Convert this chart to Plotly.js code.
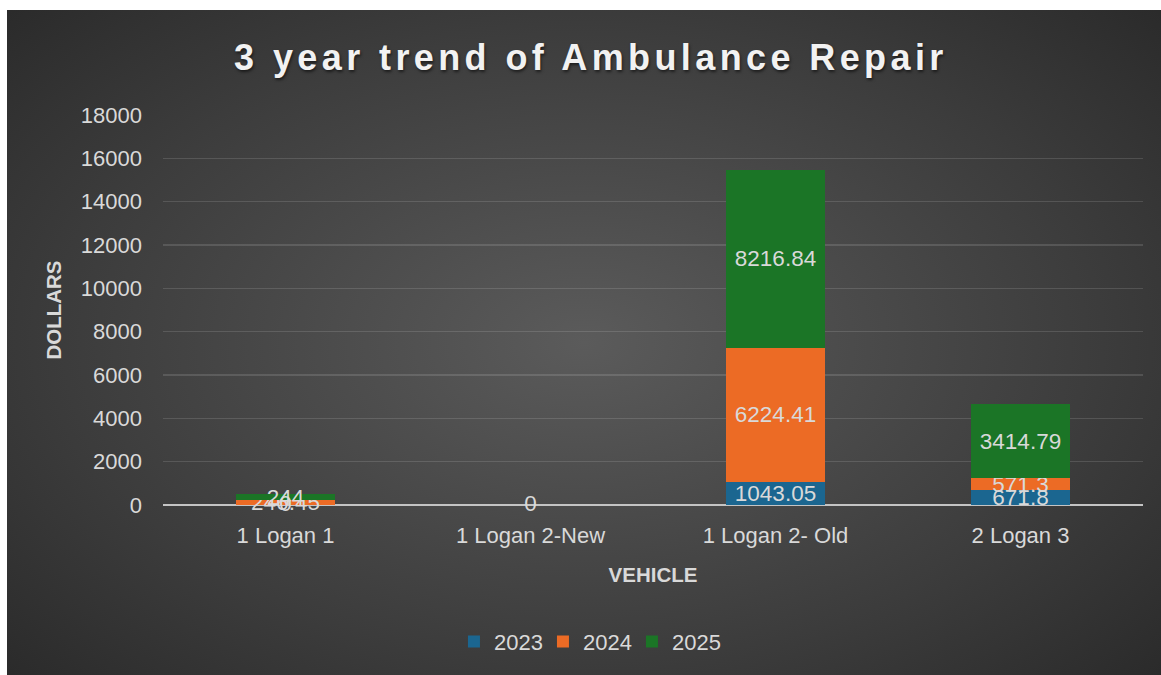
<!DOCTYPE html>
<html>
<head>
<meta charset="utf-8">
<script src="https://cdn.plot.ly/plotly-3.0.1.min.js"></script>
<style>
  html, body { margin: 0; padding: 0; background: #ffffff; width: 1161px; height: 675px; overflow: hidden; }
  #chart {
    position: absolute; left: 7px; top: 10px; width: 1154px; height: 665px;
    background: radial-gradient(ellipse 75% 80% at 50% 50%, #5b5b5b 0%, #3c3c3c 60%, #262626 100%);
  }
  .gtitle { letter-spacing: 4.4px; }
</style>
</head>
<body>
<div id="chart"></div>
<script>
const categories = ["1 Logan 1", "1 Logan 2-New", "1 Logan 2- Old", "2 Logan 3"];
const seriesNames = ["2023", "2024", "2025"];
const values2023 = [0, 0, 1043.05, 671.8];
const values2024 = [246.45, 0, 6224.41, 571.3];
const values2025 = [244, 0, 8216.84, 3414.79];
const seriesColors = ["#1b6690", "#ec6b25", "#1b7526"];
const yTickValues = [0, 2000, 4000, 6000, 8000, 10000, 12000, 14000, 16000, 18000];

const allSeries = [values2023, values2024, values2025];
const labelColor = "#d9d9d9";
const fontFam = "Liberation Sans, Arial, sans-serif";

const traces = allSeries.map((vals, i) => ({
  type: "bar",
  name: seriesNames[i],
  x: categories,
  y: vals,
  marker: { color: seriesColors[i], line: { width: 0 } },
  text: vals.map(v => String(v)),
  textposition: "inside",
  insidetextanchor: "middle",
  textangle: 0,
  constraintext: "none",
  cliponaxis: false,
  textfont: { family: fontFam, size: 22.5, color: labelColor },
  hoverinfo: "skip"
}));

// labels for zero-valued segments (bars of zero height carry no inside text)
const zeroX = [], zeroY = [];
allSeries.forEach(vals => vals.forEach((v, j) => {
  if (v === 0 && !zeroX.includes(categories[j])) { zeroX.push(categories[j]); zeroY.push(v); }
}));
traces.push({
  type: "scatter",
  mode: "text",
  x: zeroX,
  y: zeroY,
  text: zeroY.map(v => String(v)),
  textposition: "middle center",
  textfont: { family: fontFam, size: 22.5, color: labelColor },
  showlegend: false,
  cliponaxis: false,
  hoverinfo: "skip"
});

const layout = {
  width: 1154,
  height: 665,
  paper_bgcolor: "rgba(0,0,0,0)",
  plot_bgcolor: "rgba(0,0,0,0)",
  barmode: "stack",
  bargap: 0.596,
  margin: { l: 156, r: 18, t: 105, b: 170 },
  font: { family: fontFam, color: labelColor },
  title: {
    text: "3 year trend of Ambulance Repair",
    font: { family: fontFam, size: 36, weight: 700, color: "#f2f2f2", shadow: "1px 2px 3px rgba(0,0,0,0.55)" },
    x: 0.506, xref: "container", xanchor: "center",
    y: 0.929, yref: "container", yanchor: "middle"
  },
  xaxis: {
    type: "category",
    showgrid: false,
    zeroline: false,
    showline: false,
    ticks: "",
    ticklabelstandoff: 15,
    tickfont: { size: 22, color: labelColor },
    title: { text: "VEHICLE", font: { size: 20.5, weight: 700, color: labelColor }, standoff: 20 }
  },
  yaxis: {
    range: [0, 18000],
    tickvals: yTickValues,
    ticktext: yTickValues.map(v => String(v)),
    showgrid: true,
    gridcolor: "rgba(255,255,255,0.13)",
    gridwidth: 1.5,
    zeroline: true,
    zerolinecolor: "#c4c4c4",
    zerolinewidth: 2.5,
    showline: false,
    ticks: "",
    ticklabelstandoff: 20,
    tickfont: { size: 22, color: labelColor },
    title: { text: "DOLLARS", font: { size: 20.5, weight: 700, color: labelColor }, standoff: 13 }
  },
  showlegend: true,
  legend: {
    orientation: "h",
    xref: "container", x: 0.503, xanchor: "center",
    yref: "container", y: 0.05, yanchor: "middle",
    font: { size: 22, color: labelColor },
    entrywidth: 44,
    entrywidthmode: "pixels",
    bgcolor: "rgba(0,0,0,0)",
    traceorder: "normal"
  },
  hovermode: false
};

Plotly.newPlot("chart", traces, layout, { displayModeBar: false, staticPlot: true });
</script>
</body>
</html>
